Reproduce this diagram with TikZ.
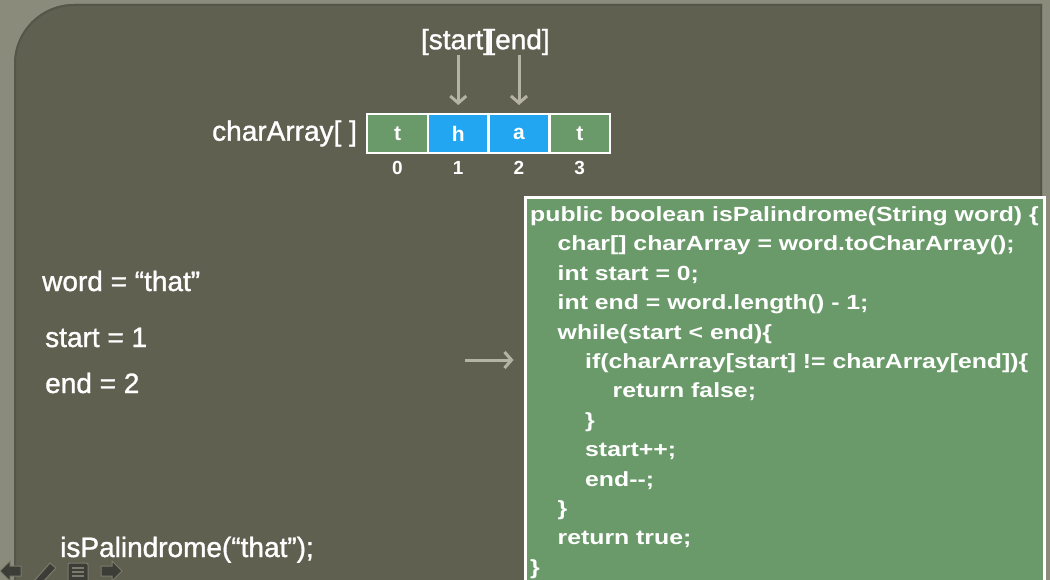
\documentclass[tikz,border=0pt]{standalone}
\usepackage{fontspec}
\setmainfont{Liberation Sans}
\newfontfamily\codefont[FakeStretch=1.21]{Liberation Sans}
\newfontfamily\lblfont[FakeBold=1.2]{Liberation Sans}
\usetikzlibrary{positioning,arrows.meta}
\definecolor{slidebg}{HTML}{8A8B7A}
\definecolor{panelbg}{HTML}{5F6050}
\definecolor{panelrim}{HTML}{55564A}
\definecolor{cellgreen}{HTML}{6A9A6A}
\definecolor{cellblue}{HTML}{22A6F2}
\definecolor{ptrgray}{HTML}{B5B3A3}
\definecolor{icondark}{HTML}{3C3D36}
\definecolor{iconedge}{HTML}{7A7B6C}
\newcommand{\ind}{\hspace*{27.5pt}}

\tikzset{
  cell/.style={draw=white, line width=2.5pt, outer sep=0pt, inner sep=0pt,
    minimum width=60.75pt, minimum height=39pt, text=white,
    font=\fontsize{21}{21}\selectfont\bfseries},
  idx/.style={text=white, inner sep=0pt, font=\fontsize{19}{19}\selectfont\bfseries},
  lbl/.style={text=white, inner sep=0pt, font=\lblfont\fontsize{28}{28}\selectfont},
  ptrarrow/.style={draw=ptrgray, line width=3pt, -{Straight Barb[length=7pt,width=16pt]}},
  codebox/.style={draw=white, fill=cellgreen, line width=3pt, inner sep=0pt},
  codetext/.style={text=white, inner sep=0pt, align=left,
    font=\codefont\bfseries\fontsize{20.5}{29.4}\selectfont},
  icon/.style={fill=icondark, draw=iconedge, line width=1pt}
}

\begin{document}
\begin{tikzpicture}[x=1pt, y=-1pt]
    \useasboundingbox (0,0) rectangle (1050,580);
    % slide background and panel
    \fill[slidebg] (0,0) rectangle (1050,580);
    \fill[panelbg] (14,600) -- (14,64) arc[start angle=180, end angle=270, radius=60] -- (1042,4) -- (1042,600) -- cycle;
    \draw[panelrim, line width=2pt] (15,600) -- (15,64) arc[start angle=180, end angle=270, radius=59] -- (1041,5) -- (1041,600);

    % the array
    \node[cell, fill=cellgreen] (c0) at (397.5,133.5) {t};
    \node[cell, fill=cellblue, right=0pt of c0] (c1) {h};
    \node[cell, fill=cellblue, right=0pt of c1] (c2) {a};
    \node[cell, fill=cellgreen, right=0pt of c2] (c3) {t};
    \foreach \i in {0,...,3}
        \node[idx, below=8pt of c\i] (i\i) {\i};
    \node[lbl, left=10pt of c0] (arr) {charArray[ ]};

    % start and end pointers
    \node[lbl] (st) at (456,42) {[start]};
    \node[lbl, right=-4pt of st] (en) {[end]};
    \draw[ptrarrow, shorten >=9pt] (st.south -| c1.north) -- (c1.north);
    \draw[ptrarrow, shorten >=9pt] (en.south -| c2.north) -- (c2.north);

    % variables
    \node[lbl, anchor=base west] (word) at (42,291) {word = “that”};
    \node[lbl, anchor=base west] (vstart) at (45,347) {start = 1};
    \node[lbl, anchor=base west] (vend) at (45,393) {end = 2};
    \node[lbl, anchor=base west] (call) at (60,557) {isPalindrome(“that”);};

    % code
    \node[codebox, anchor=north west, minimum width=519pt, minimum height=420pt] (code) at (523.5,196.5) {};
    \node[codetext, anchor=north west] (src) at (530,206.5) {%
public boolean isPalindrome(String word) \{\\
\ind char[] charArray = word.toCharArray();\\
\ind int start = 0;\\
\ind int end = word.length() - 1;\\
\ind while(start < end)\{\\
\ind\ind if(charArray[start] != charArray[end])\{\\
\ind\ind\ind return false;\\
\ind\ind \}\\
\ind\ind start++;\\
\ind\ind end-{}-;\\
\ind \}\\
\ind return true;\\
\}};
    \coordinate (cur) at (465,360);
    \draw[ptrarrow, shorten >=10pt] (cur) -- (cur -| code.west);

    % player controls
    \draw[icon] (0,571) -- (10,561) -- (10,566) -- (21,566) -- (21,576) -- (10,576) -- (10,581) -- cycle;
    \draw[icon] (34,581) -- (50,563) -- (56,568) -- (40,585) -- cycle;
    \draw[icon, rounded corners=2pt] (68,563) rectangle (88,584);
    \foreach \yy in {568,572,576}
        \draw[iconedge, line width=1.5pt] (72,\yy) -- (84,\yy);
    \draw[icon] (122,571) -- (112,561) -- (112,566) -- (101,566) -- (101,576) -- (112,576) -- (112,581) -- cycle;
\end{tikzpicture}
\end{document}
